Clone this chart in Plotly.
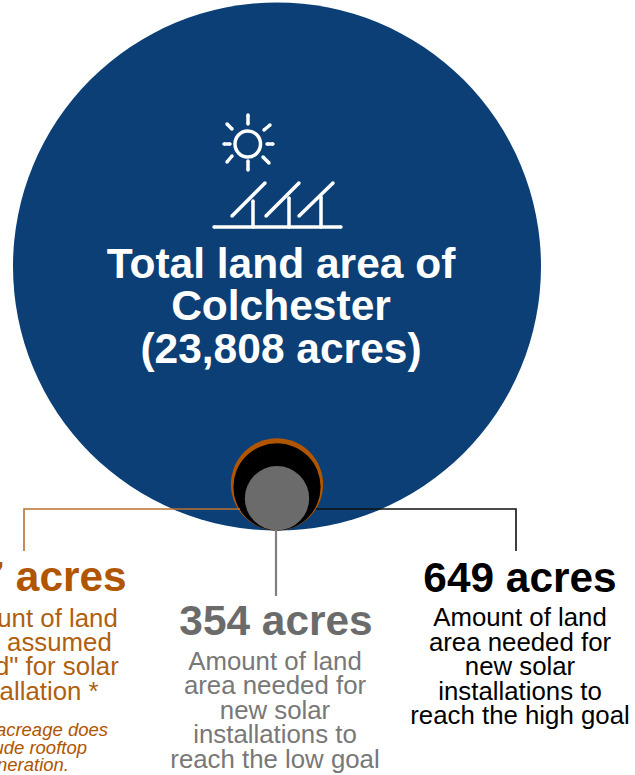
import math
import plotly.graph_objects as go

# Acreage figures; circle areas are proportional to these
circle_names = ["Total land area", "Assumed suited for solar", "High goal", "Low goal"]
circle_acres = [23808, 727, 649, 354]
circle_colors = ["#0B3F75", "#B05500", "#000000", "#6B6B6B"]

title_lines = ["Total land area of", "Colchester", "(23,808 acres)"]
suited_head = "727 acres"
suited_lines = ["Amount of land", "area assumed", "\"suited\" for solar", "installation *"]
suited_note = ["This acreage does", "include rooftop", "generation."]
low_head = "354 acres"
low_lines = ["Amount of land", "area needed for", "new solar", "installations to", "reach the low goal"]
high_head = "649 acres"
high_lines = ["Amount of land", "area needed for", "new solar", "installations to", "reach the high goal"]

FONT = "Liberation Sans, Arial, sans-serif"
ORANGE, GRAY = "#B05500", "#6B6B6B"
BASE_Y = 530.5
CENTER_X = 277
MAX_R = 264
HEAD = 42.4
BODY = 25.8
NOTE = 18.5

radii = [MAX_R * math.sqrt(a / circle_acres[0]) for a in circle_acres]

fig = go.Figure()


def polyline(xs, ys, color, width):
    fig.add_trace(go.Scatter(x=xs, y=ys, mode="lines", line=dict(color=color, width=width),
                             hoverinfo="skip", showlegend=False, cliponaxis=False))


def text_block(xs, ys, lines, size, color, bold=False, italic=False, position="middle center"):
    label = [f"<b>{t}</b>" if bold else (f"<i>{t}</i>" if italic else t) for t in lines]
    fig.add_trace(go.Scatter(x=xs, y=ys, mode="text", text=label, textposition=position,
                             textfont=dict(family=FONT, size=size, color=color),
                             hoverinfo="skip", showlegend=False, cliponaxis=False))


# Nested circles, all resting on the same bottom tangent
for name, color, r in zip(circle_names, circle_colors, radii):
    fig.add_trace(go.Scatter(x=[CENTER_X], y=[BASE_Y - r], mode="markers", name=name,
                             marker=dict(size=2 * r, color=color, line=dict(width=0)),
                             hoverinfo="name", showlegend=False, cliponaxis=False))

# Leader lines from the circles to their labels
polyline([24, 24, 240], [551, 509, 509], "#B9712F", 1.6)
polyline([316, 516, 516], [509, 509, 551], "#111111", 1.6)
polyline([276, 276], [530, 596], "#7F7F7F", 2.2)

# Title inside the large circle
text_block([281] * 3, [267, 309, 352], title_lines, 42.5, "#FFFFFF", bold=True)

# Left column runs past the page edge
text_block([30], [580], [suited_head], HEAD, ORANGE, bold=True)
text_block([31, 30, 25, 29], [621, 645, 669, 694], suited_lines, BODY, "#B05F10")
text_block([108, 87, 69], [731, 749, 766], suited_note, NOTE, ORANGE, italic=True, position="middle left")

# Centre column
text_block([276], [624], [low_head], HEAD, GRAY, bold=True)
text_block([275] * 5, [664, 688, 713, 737, 762], low_lines, BODY, "#787878")

# Right column
text_block([520], [581], [high_head], HEAD, "#000000", bold=True)
text_block([520] * 5, [620, 645, 669, 694, 718], high_lines, BODY, "#000000")

# Sun and solar panel pictogram
icon_segments = [
    (248, 115, 248, 124), (248, 161, 248, 170), (224, 144, 230, 144), (267, 144, 273, 144),
    (227, 124, 232, 129), (264, 130, 270, 125), (227, 162, 232, 156), (263, 157, 269, 163),
    (214, 227, 341, 227),
    (232, 216, 265, 183), (266, 216, 299, 183), (299, 216, 333, 183),
    (253, 201, 253, 227), (289, 198, 289, 227), (321, 197, 321, 227),
]
shapes = [dict(type="line", xref="x", yref="y", x0=a, y0=b, x1=c, y1=d,
               line=dict(color="#FFFFFF", width=3.5)) for a, b, c, d in icon_segments]
shapes.append(dict(type="circle", xref="x", yref="y", x0=235, y0=131, x1=260.5, y1=157,
                   line=dict(color="#FFFFFF", width=3.5)))

# Round the stroke ends of the pictogram
cap_x = [v for s in icon_segments for v in (s[0], s[2])]
cap_y = [v for s in icon_segments for v in (s[1], s[3])]
fig.add_trace(go.Scatter(x=cap_x, y=cap_y, mode="markers",
                         marker=dict(size=3.5, color="#FFFFFF", line=dict(width=0)),
                         hoverinfo="skip", showlegend=False, cliponaxis=False))

fig.update_layout(
    width=635, height=775, margin=dict(l=0, r=0, t=0, b=0),
    paper_bgcolor="#FFFFFF", plot_bgcolor="#FFFFFF", showlegend=False, shapes=shapes,
    xaxis=dict(range=[0, 635], visible=False, fixedrange=True),
    yaxis=dict(range=[775, 0], visible=False, fixedrange=True),
)

fig.write_html("out.html", config=dict(displayModeBar=False))
